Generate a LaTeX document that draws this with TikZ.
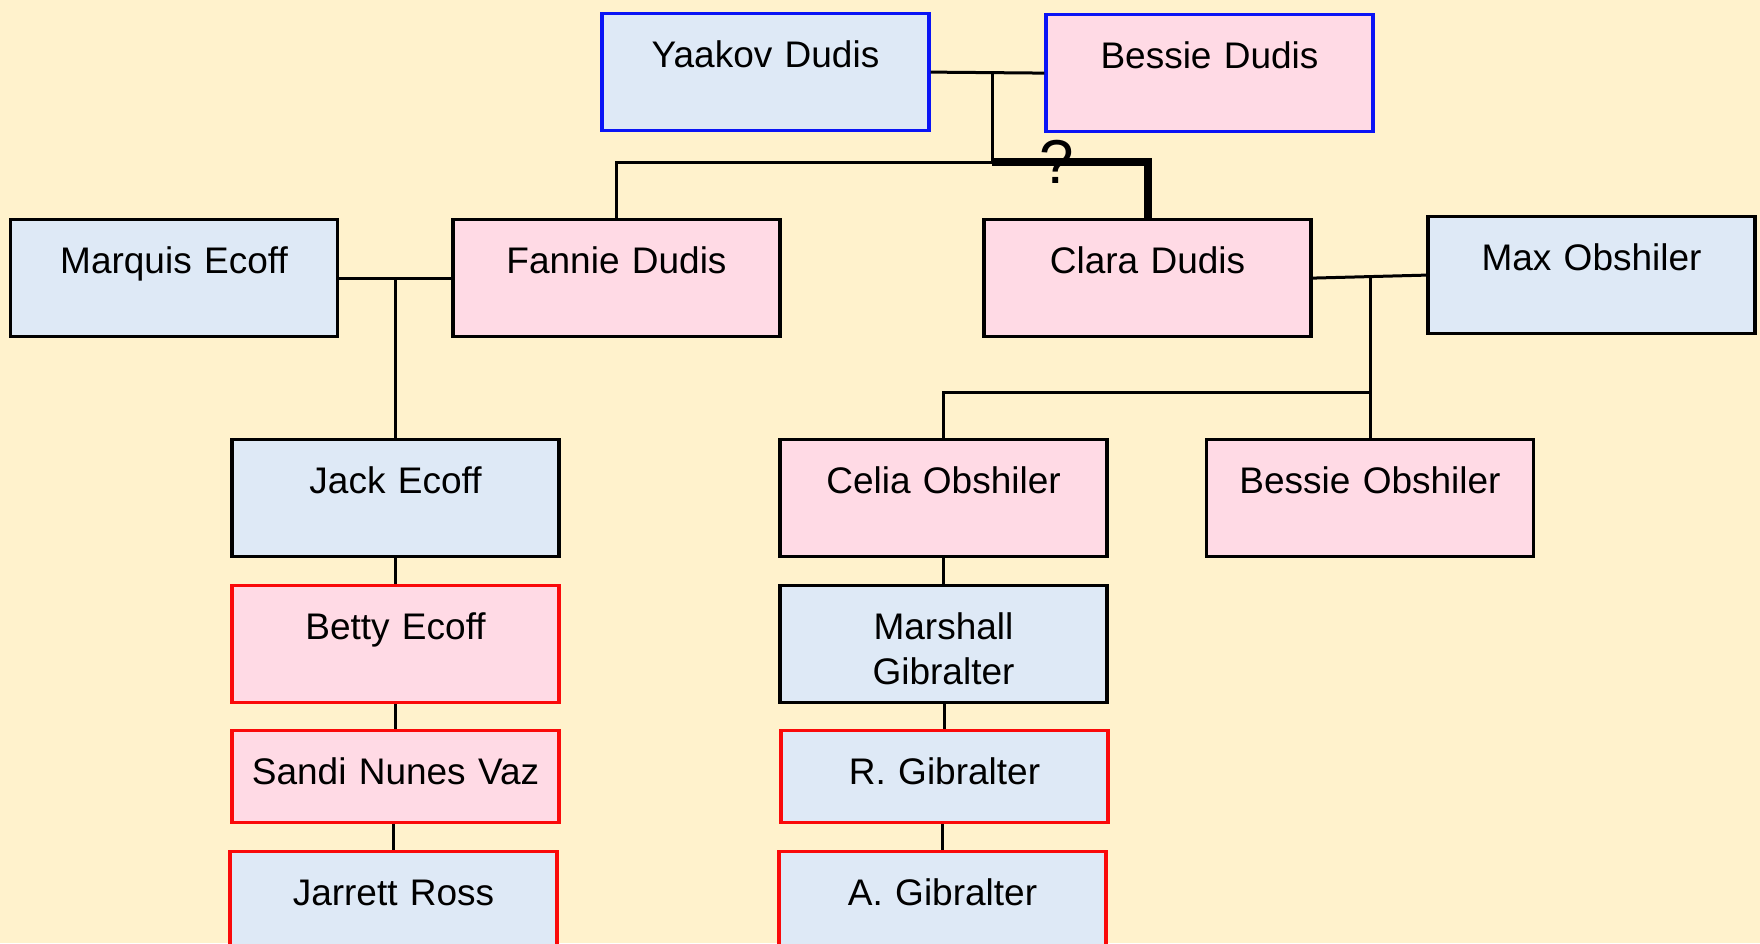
\documentclass[tikz,border=0pt]{standalone}
\usepackage{fontspec}
\setmainfont{Liberation Sans}
\usepackage{tikz}
\usetikzlibrary{positioning}
\definecolor{mcream}{HTML}{FFF2CC}
\definecolor{mblue}{HTML}{DEE9F6}
\definecolor{mpink}{HTML}{FFDAE5}
\definecolor{mrimblue}{HTML}{0A14F5}
\definecolor{mrimred}{HTML}{FA0A0A}
\tikzset{card/.style = {draw, line width = 1.6pt, inner sep = 0, text width = 163.5pt,
    align = center, anchor = north, text height = 27pt, text depth = 31.5pt,
    font = \fontsize{18.5pt}{22.5pt}\selectfont}}
\tikzset{man/.style = {card, fill = mblue}}
\tikzset{woman/.style = {card, fill = mpink}}
\tikzset{lowcard/.style = {text depth = 19pt}}
\tikzset{bluerim/.style = {draw = mrimblue}}
\tikzset{redrim/.style = {draw = mrimred}}
\tikzset{link/.style = {line width = 1.5pt}}

\begin{document}
\begin{tikzpicture}[x = 0.5pt, y = -0.5pt]
  \useasboundingbox (0, 0) rectangle (1760, 943);
  \clip (0, 0) rectangle (1760, 943);
  \fill [mcream] (0, 0) rectangle (1760, 943);

  % first generation
  \node [man, bluerim] (yaakov) at (765.5, 12) {Yaakov Dudis};
  \node [woman, bluerim] (bessied) at (1209.5, 13) {Bessie Dudis};

  % second generation
  \node [man] (marquis) at (174, 218) {Marquis Ecoff};
  \node [woman] (fannie) at (616.5, 218) {Fannie Dudis};
  \node [woman] (clara) at (1147.5, 218) {Clara Dudis};
  \node [man] (max) at (1591.5, 215) {Max Obshiler};

  % third generation
  \node [man] (jack) at (395.5, 438) {Jack Ecoff};
  \node [woman] (celia) at (943.5, 438) {Celia Obshiler};
  \node [woman] (bessieo) at (1370, 438) {Bessie Obshiler};

  \node [woman, redrim] (betty) at (395.5, 584) {Betty Ecoff};
  \node [man] (marshall) at (943.5, 584) {Marshall\\Gibralter};
  \node [woman, redrim, lowcard] (sandi) at (395.5, 729) {Sandi Nunes Vaz};
  \node [man, redrim, lowcard] (rgib) at (944.5, 729) {R. Gibralter};
  \node [man, redrim] (jarrett) at (393.5, 850) {Jarrett Ross};
  \node [man, redrim] (agib) at (942.5, 850) {A. Gibralter};

  % couples
  \coordinate (dudis) at (992, 71.5);
  \coordinate (dudiskids) at (992, 162);
  \coordinate (ecoff) at (395.5, 277);
  \coordinate (obsh) at (1370, 275);
  \coordinate (obshkids) at (1370, 392);

  \draw [link] (yaakov.east) -- (bessied.west);
  \draw [link] (dudis) -- (dudiskids) -- (dudiskids -| fannie.north) -- (fannie.north);
  \draw [line width = 4pt] (dudiskids) -- (dudiskids -| clara.north) -- (clara.north);
  \node [font = \fontsize{31pt}{31pt}\selectfont, anchor = base, inner sep = 0] (qmark) at (1057, 183) {?};

  \draw [link] (marquis.east) -- (fannie.west);
  \draw [link] (ecoff) -- (jack.north);
  \draw [link] (clara.east) -- (max.west);
  \draw [link] (obsh) -- (bessieo.north);
  \draw [link] (obshkids) -- (obshkids -| celia.north) -- (celia.north);

  % lines of descent
  \draw [link] (jack.south) -- (betty.north);
  \draw [link] (betty.south) -- (sandi.north);
  \draw [link] (sandi.south -| jarrett.north) -- (jarrett.north);
  \draw [link] (celia.south) -- (marshall.north);
  \draw [link] (marshall.south -| rgib.north) -- (rgib.north);
  \draw [link] (rgib.south -| agib.north) -- (agib.north);
\end{tikzpicture}
\end{document}
